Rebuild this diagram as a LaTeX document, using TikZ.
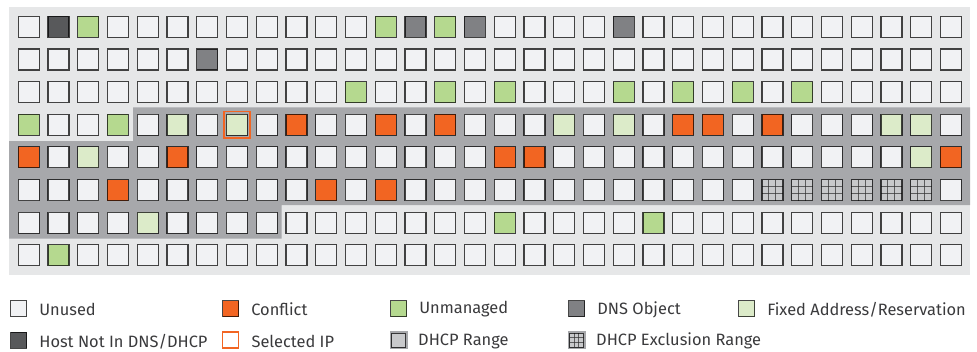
\documentclass[tikz,border=0pt]{standalone}
\usepackage{fontspec}
\setmainfont{Fira Sans}
\usepackage{tikz}
\usetikzlibrary{positioning,fit,calc}

\definecolor{panel}{HTML}{E6E7E8}
\definecolor{rangebg}{HTML}{A7A8AB}
\definecolor{freecol}{HTML}{F1F2F4}
\definecolor{hostcol}{HTML}{58595B}
\definecolor{dnscol}{HTML}{808184}
\definecolor{unmancol}{HTML}{B5D98F}
\definecolor{fixedcol}{HTML}{DCEBC9}
\definecolor{conflcol}{HTML}{F26522}
\definecolor{exclcol}{HTML}{C8C9CB}
\definecolor{textcol}{HTML}{3A3A3C}

% row/column/kind of every cell that is not unused
\newcommand\ipcells{1/2/host,1/3/unman,1/13/unman,1/14/dns,1/15/unman,1/16/dns,1/21/dns,
  2/7/dns,
  3/12/unman,3/15/unman,3/17/unman,3/21/unman,3/23/unman,3/25/unman,3/27/unman,
  4/1/unman,4/4/unman,4/6/fixed,4/8/fixed,4/10/confl,4/13/confl,4/15/confl,4/19/fixed,
  4/21/fixed,4/23/confl,4/24/confl,4/26/confl,4/30/fixed,4/31/fixed,
  5/1/confl,5/3/fixed,5/6/confl,5/17/confl,5/18/confl,5/31/fixed,5/32/confl,
  6/4/confl,6/11/confl,6/13/confl,6/26/excl,6/27/excl,6/28/excl,6/29/excl,6/30/excl,6/31/excl,
  7/5/fixed,7/17/unman,7/22/unman,
  8/2/unman}

\begin{document}
\begin{tikzpicture}[x=1pt,y=-1pt,
  every node/.style={font=\fontsize{16.4}{19}\selectfont},
  cell/.style={draw=black,draw opacity=.72,line width=1.3pt,minimum size=21pt,inner sep=0pt,fill=freecol},
  key/.style={cell,minimum size=16pt},
  rangekey/.style={cell,minimum size=14pt,line width=1pt,preaction={draw=rangebg,draw opacity=1,line width=4pt}},
  keytext/.style={inner sep=0pt,yshift=-1pt,text=textcol},
  free/.style={fill=freecol},
  host/.style={fill=hostcol},
  dns/.style={fill=dnscol},
  unman/.style={fill=unmancol},
  fixed/.style={fill=fixedcol},
  confl/.style={fill=conflcol},
  excl/.style={fill=exclcol,path picture={
    \foreach \f in {1,2} {
      \draw[black!80,line width=1pt]
        ($(path picture bounding box.north west)!\f/3!(path picture bounding box.north east)$) --
        ($(path picture bounding box.south west)!\f/3!(path picture bounding box.south east)$);
      \draw[black!80,line width=1pt]
        ($(path picture bounding box.north west)!\f/3!(path picture bounding box.south west)$) --
        ($(path picture bounding box.north east)!\f/3!(path picture bounding box.south east)$);
    }}},
  selring/.style={draw=conflcol,line width=1.8pt,inner sep=2pt}
]
\useasboundingbox (0,0) rectangle (977,351);
\fill[panel] (9,7) rectangle (970,275);
\fill[rangebg] (133,107.3) -- (970,107.3) -- (970,205) -- (281.7,205) -- (281.7,238.7)
  -- (9,238.7) -- (9,141) -- (133,141) -- cycle;

\foreach \r/\k/\s in \ipcells {\expandafter\xdef\csname ip-\r-\k\endcsname{\s}}
\foreach \r in {1,...,8} \foreach \k in {1,...,32} {
  \ifcsname ip-\r-\k\endcsname \edef\kind{\csname ip-\r-\k\endcsname}\else\def\kind{free}\fi
  \node[cell,\kind] (c\r-\k) at ({28.7+(\k-1)*29.75},{26.7+(\r-1)*32.66}) {};
}
\node[selring,fit=(c4-8)] (selip) {};

\node[key,free] (kfree) at (18.5,308.5) {};
\node[keytext,right=12pt of kfree] (tfree) {Unused};
\node[key,confl] (kconfl) at (230.5,308.5) {};
\node[keytext,right=12pt of kconfl] (tconfl) {Conflict};
\node[key,unman] (kunman) at (398.5,308.5) {};
\node[keytext,right=12pt of kunman] (tunman) {Unmanaged};
\node[key,dns] (kdns) at (576.5,308.5) {};
\node[keytext,right=12pt of kdns] (tdns) {DNS Object};
\node[key,fixed] (kfixed) at (746.5,308.5) {};
\node[keytext,right=12pt of kfixed] (tfixed) {Fixed Address/Reservation};

\node[key,host] (khost) at (18.5,340.3) {};
\node[keytext,right=12pt of khost] (thost) {Host Not In DNS/DHCP};
\node[key,fill=white,draw=conflcol,draw opacity=1,line width=1.8pt] (ksel) at (230.5,340.3) {};
\node[keytext,right=12pt of ksel] (tsel) {Selected IP};
\node[rangekey,fill=exclcol] (krange) at (398.5,340.3) {};
\node[keytext,right=12pt of krange] (trange) {DHCP Range};
\node[rangekey,excl] (kexcl) at (576.5,340.3) {};
\node[keytext,right=12pt of kexcl] (texcl) {DHCP Exclusion Range};
\end{tikzpicture}
\end{document}
